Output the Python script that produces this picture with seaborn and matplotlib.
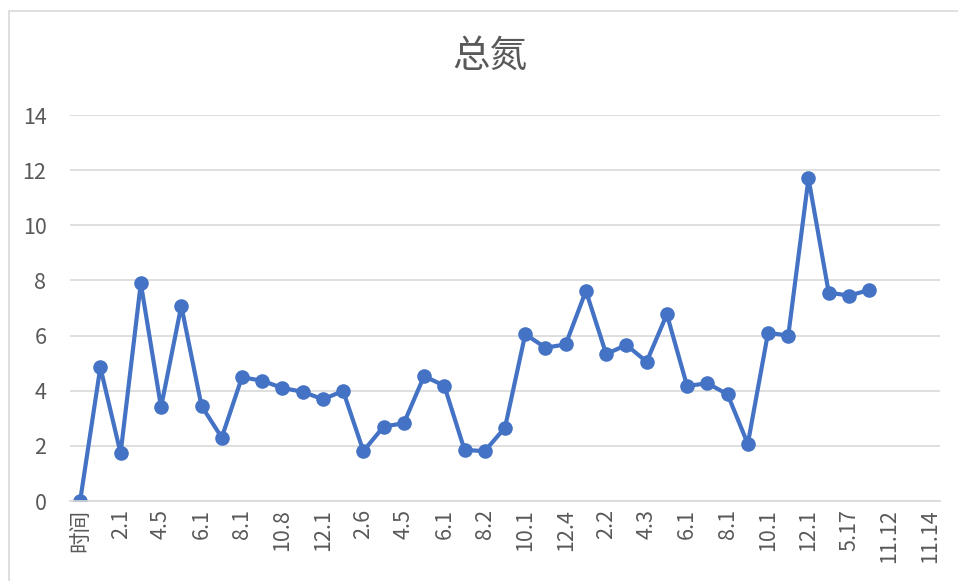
import matplotlib
matplotlib.use('Agg')
import matplotlib.pyplot as plt
import seaborn as sns
import pandas as pd
import numpy as np
from matplotlib.patches import Rectangle

# 类别标签（每隔一个显示）
labels = ['时间', '1.5', '2.1', '3.3', '4.5', '5.4', '6.1', '7.2', '8.1', '9.6',
          '10.8', '11.3', '12.1', '1.4', '2.6', '3.2', '4.5', '5.3', '6.1', '7.5',
          '8.2', '9.1', '10.1', '11.6', '12.4', '1.8', '2.2', '3.5', '4.3', '5.2',
          '6.1', '7.4', '8.1', '9.2', '10.1', '11.1', '12.1', '3.15', '5.17', '8.20',
          '11.12', '11.13', '11.14']

# 总氮数值
values = [0, 4.85, 1.73, 7.90, 3.40, 7.08, 3.45, 2.30, 4.49, 4.36,
          4.10, 3.96, 3.69, 3.99, 1.81, 2.70, 2.82, 4.53, 4.18, 1.85,
          1.81, 2.66, 6.05, 5.56, 5.68, 7.62, 5.33, 5.66, 5.05, 6.77,
          4.17, 4.27, 3.87, 2.07, 6.10, 6.00, 11.70, 7.56, 7.45, 7.65,
          np.nan, np.nan, np.nan]

yticks = [0, 2, 4, 6, 8, 10, 12, 14]

sns.set_theme(style='white')
plt.rcParams['font.family'] = ['Noto Sans CJK SC', 'DejaVu Sans']
plt.rcParams['font.weight'] = 'light'
plt.rcParams['axes.unicode_minus'] = False

df = pd.DataFrame({'pos': np.arange(len(labels)), 'value': values})

fig = plt.figure(figsize=(9.58, 5.81), dpi=100)
ax = fig.add_axes([70 / 958, 1 - 501 / 581, 870 / 958, 386 / 581])

sns.lineplot(data=df, x='pos', y='value', ax=ax, color='#4472C4', linewidth=3,
             marker='o', markersize=10.5, markeredgewidth=0, sort=False)

ax.set_xlim(-0.5, len(labels) - 0.5)
ax.set_ylim(0, 14)
ax.set_yticks(yticks)
ax.set_xticks(df['pos'][::2])
ax.set_xticklabels(labels[::2], rotation=90)
ax.grid(axis='y', color='#D9D9D9', linewidth=1.2)
ax.set_axisbelow(True)
ax.tick_params(axis='both', length=0, labelsize=15.5, colors='#595959')
ax.tick_params(axis='y', pad=17)
ax.tick_params(axis='x', pad=6)
ax.set_xlabel('')
ax.set_ylabel('')
for side in ['top', 'left', 'right']:
    ax.spines[side].set_visible(False)
ax.spines['bottom'].set_color('#D9D9D9')
ax.spines['bottom'].set_linewidth(1.2)

fig.text(490 / 958, 1 - 56 / 581, '总氮', ha='center', va='center',
         fontsize=27, color='#595959')

# 图表外框
fig.patches.append(Rectangle((9 / 958, -0.1), 1.0, 1 - 11 / 581 + 0.1,
                             transform=fig.transFigure, fill=False,
                             edgecolor='#D9D9D9', linewidth=1.2))

plt.savefig('out.png', dpi=100, facecolor='white')
plt.close(fig)
